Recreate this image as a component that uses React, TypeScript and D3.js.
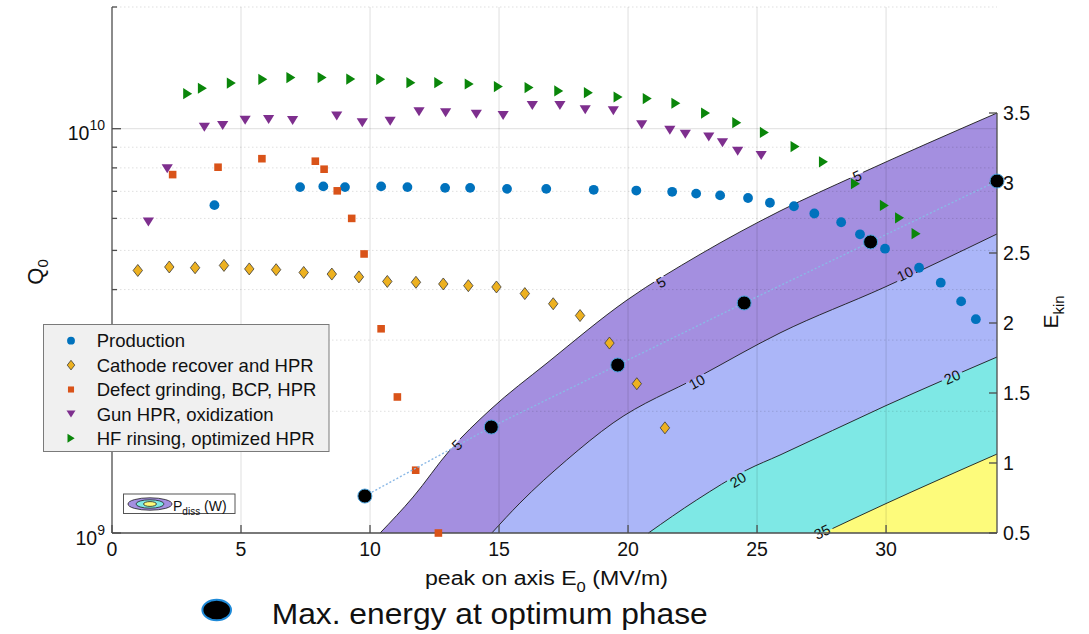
import { useEffect, useRef } from "react";
import * as d3 from "d3";

const W = 1089;
const H = 634;
const FONT = "'Liberation Sans', Arial, Helvetica, sans-serif";

// Q0 vs peak on axis E0 (MV/m), per treatment
const prodE0 = [3.97, 7.29, 8.19, 9.03, 10.43, 11.45, 12.91, 13.88, 15.31, 16.83, 18.67, 20.32, 21.71, 22.64, 23.57, 24.65, 25.5, 26.43, 27.22, 28.26, 28.99, 29.96, 31.28, 32.12, 32.91, 33.48];
const prodQ0 = [6.47, 7.17, 7.2, 7.17, 7.2, 7.17, 7.14, 7.14, 7.1, 7.1, 7.06, 7.03, 6.98, 6.91, 6.84, 6.74, 6.56, 6.43, 6.17, 5.87, 5.48, 5.05, 4.53, 4.16, 3.74, 3.38];

const cathE0 = [1.0, 2.22, 3.22, 4.34, 5.32, 6.36, 7.43, 8.52, 9.57, 10.67, 11.78, 12.84, 13.81, 14.9, 16.0, 17.1, 18.14, 19.28, 20.34, 21.43];
const cathQ0 = [4.46, 4.55, 4.53, 4.59, 4.5, 4.48, 4.41, 4.37, 4.3, 4.19, 4.17, 4.13, 4.09, 4.06, 3.91, 3.69, 3.45, 2.95, 2.34, 1.82];

const defE0 = [2.35, 4.11, 5.81, 7.88, 8.22, 8.73, 9.29, 9.77, 10.43, 11.06, 11.77, 12.65];
const defQ0 = [7.7, 8.03, 8.43, 8.31, 7.94, 7.02, 6.0, 4.9, 3.2, 2.17, 1.43, 1.0];

const gunE0 = [1.41, 2.14, 3.58, 4.29, 5.16, 6.07, 7.0, 8.71, 9.7, 10.78, 11.9, 12.93, 14.12, 15.16, 16.29, 17.36, 18.34, 19.43, 20.53, 21.62, 22.22, 23.13, 23.66, 24.25, 25.16];
const gunQ0 = [5.88, 7.96, 10.09, 10.19, 10.5, 10.54, 10.48, 10.75, 10.35, 10.44, 11.02, 10.96, 10.87, 10.79, 11.42, 11.42, 11.15, 11.08, 10.23, 9.92, 9.7, 9.55, 9.23, 8.8, 8.59];

const hfE0 = [2.93, 3.5, 4.62, 5.84, 6.93, 8.14, 9.25, 10.41, 11.58, 12.66, 13.84, 14.97, 16.16, 17.31, 18.46, 19.61, 20.74, 21.85, 23.0, 24.21, 25.28, 26.47, 27.57, 28.81, 29.93, 30.52, 31.16];
const hfQ0 = [12.21, 12.59, 12.97, 13.25, 13.38, 13.38, 13.27, 13.25, 13.0, 13.0, 12.9, 12.71, 12.64, 12.4, 12.28, 11.98, 11.87, 11.56, 10.93, 10.35, 9.79, 9.03, 8.28, 7.31, 6.46, 6.02, 5.5];

// max energy at optimum phase (right axis, E_kin)
const optE0 = [9.8, 14.7, 19.6, 24.5, 29.4, 34.3];
const optEkin = [0.764, 1.257, 1.7, 2.143, 2.579, 3.014];

// P_diss (W) iso-lines in the (E0, E_kin) plane
const c5E0 = [10.39, 11.67, 13.1, 14.65, 16.86, 19.96, 22.79, 25.89, 28.88, 34.3];
const c5Ekin = [0.5, 0.757, 1.093, 1.379, 1.714, 2.164, 2.49, 2.8, 3.057, 3.5];
const c10E0 = [14.72, 15.81, 17.62, 19.42, 22.79, 25.89, 29.96, 34.3];
const c10Ekin = [0.5, 0.714, 1.021, 1.286, 1.621, 1.929, 2.257, 2.636];
const c20E0 = [20.79, 22.66, 24.6, 25.89, 29.96, 34.3];
const c20Ekin = [0.5, 0.736, 0.95, 1.057, 1.407, 1.757];
const c35E0 = [27.56, 29.96, 34.3];
const c35Ekin = [0.5, 0.707, 1.064];
const levelColors = ["#a48fe0", "#abb6f8", "#7ee8e5", "#fdfb7b"];

const labelText = ["5", "5", "5", "10", "10", "20", "20", "35"];
const labelLevel = [0, 0, 0, 1, 1, 2, 2, 3];
const labelE0 = [28.88, 21.28, 13.37, 30.74, 22.67, 24.26, 32.56, 27.52];
const labelEkin = [3.05, 2.29, 1.129, 2.35, 1.579, 0.879, 1.614, 0.507];

const xTicks = [0, 5, 10, 15, 20, 25, 30];
const rightTicks = [0.5, 1, 1.5, 2, 2.5, 3, 3.5];
const minorQ = [2e9, 3e9, 4e9, 5e9, 6e9, 7e9, 8e9, 9e9, 2e10];
const legendNames = ["Production", "Cathode recover and HPR", "Defect grinding, BCP, HPR", "Gun HPR, oxidization", "HF rinsing, optimized HPR"];

const markerPath = (kind: string, s: number) => {
  if (kind === "circle") return d3.symbol(d3.symbolCircle, Math.PI * 4.9 * 4.9 * s * s)();
  if (kind === "diamond") return `M0,${-6 * s}L${4.7 * s},0L0,${6 * s}L${-4.7 * s},0Z`;
  if (kind === "square") return `M${-3.8 * s},${-3.8 * s}h${7.6 * s}v${7.6 * s}h${-7.6 * s}Z`;
  if (kind === "down") return `M${-5.6 * s},${-4.4 * s}L${5.6 * s},${-4.4 * s}L0,${4.6 * s}Z`;
  return `M${-4.4 * s},${-5.6 * s}L${4.6 * s},0L${-4.4 * s},${5.6 * s}Z`;
};

const App = () => {
  const svgRef = useRef<SVGSVGElement>(null);

  useEffect(() => {
    const svg = d3.select(svgRef.current);
    svg.selectAll("*").remove();

    const x = d3.scaleLinear().domain([0, 34.3]).range([112, 997]);
    const y = d3.scaleLog().domain([1e9, 2e10]).range([533, 7]);
    const yR = d3.scaleLinear().domain([0.5, 3.5]).range([533, 113]);

    const contours = [
      d3.zip(c5E0, c5Ekin),
      d3.zip(c10E0, c10Ekin),
      d3.zip(c20E0, c20Ekin),
      d3.zip(c35E0, c35Ekin),
    ];

    // filled P_diss bands
    const area = d3.area<number[]>()
      .x(d => x(d[0]))
      .y0(yR(0.5))
      .y1(d => yR(d[1]))
      .curve(d3.curveMonotoneX);
    contours.forEach((c, i) => {
      svg.append("path").attr("d", area(c)).attr("fill", levelColors[i]);
    });

    // grid
    const grid = svg.append("g").attr("stroke", "#000").attr("stroke-opacity", 0.13);
    xTicks.filter(t => t > 0).forEach(t => {
      grid.append("line").attr("x1", x(t)).attr("x2", x(t)).attr("y1", 7).attr("y2", 533);
    });
    grid.append("line").attr("x1", 112).attr("x2", 997).attr("y1", y(1e10)).attr("y2", y(1e10));
    minorQ.forEach(q => {
      grid.append("line").attr("x1", 112).attr("x2", 997).attr("y1", y(q)).attr("y2", y(q))
        .attr("stroke-dasharray", "1.5,2.5");
    });

    // contour lines with gaps for labels
    const defs = svg.append("defs");
    const mask = defs.append("mask").attr("id", "gaps").attr("maskUnits", "userSpaceOnUse")
      .attr("x", 0).attr("y", 0).attr("width", W).attr("height", H);
    mask.append("rect").attr("width", W).attr("height", H).attr("fill", "#fff");
    labelText.forEach((t, i) => {
      mask.append("circle").attr("cx", x(labelE0[i])).attr("cy", yR(labelEkin[i]))
        .attr("r", t.length > 1 ? 11 : 7).attr("fill", "#000");
    });
    const line = d3.line<number[]>().x(d => x(d[0])).y(d => yR(d[1])).curve(d3.curveMonotoneX);
    contours.forEach(c => {
      svg.append("path").attr("d", line(c)).attr("fill", "none")
        .attr("stroke", "#1a1a1a").attr("stroke-width", 0.9).attr("mask", "url(#gaps)");
    });
    labelText.forEach((t, i) => {
      const c = contours[labelLevel[i]];
      let k = c.findIndex(p => p[0] > labelE0[i]);
      if (k < 1) k = 1;
      const ang = Math.atan2(yR(c[k][1]) - yR(c[k - 1][1]), x(c[k][0]) - x(c[k - 1][0])) * 180 / Math.PI;
      svg.append("text")
        .attr("transform", `translate(${x(labelE0[i])},${yR(labelEkin[i])}) rotate(${ang})`)
        .attr("text-anchor", "middle").attr("dy", "0.35em")
        .attr("font-family", FONT).attr("font-size", 14.5).attr("fill", "#111")
        .text(t);
    });

    // axes
    const axisColor = "#4d4d4d";
    const ax = svg.append("g").attr("stroke", axisColor).attr("stroke-width", 1.3);
    ax.append("line").attr("x1", 112).attr("x2", 997).attr("y1", 533).attr("y2", 533);
    ax.append("line").attr("x1", 112).attr("x2", 112).attr("y1", 7).attr("y2", 533);
    ax.append("line").attr("x1", 997).attr("x2", 997).attr("y1", 113).attr("y2", 533);
    xTicks.forEach(t => {
      ax.append("line").attr("x1", x(t)).attr("x2", x(t)).attr("y1", 533).attr("y2", 525);
    });
    [1e9, 1e10].forEach(q => {
      ax.append("line").attr("x1", 112).attr("x2", 121).attr("y1", y(q)).attr("y2", y(q));
    });
    minorQ.forEach(q => {
      ax.append("line").attr("x1", 112).attr("x2", 117).attr("y1", y(q)).attr("y2", y(q));
    });
    rightTicks.forEach(t => {
      ax.append("line").attr("x1", 997).attr("x2", 989).attr("y1", yR(t)).attr("y2", yR(t));
    });

    const txt = (px: number, py: number, size: number, anchor = "start") =>
      svg.append("text").attr("x", px).attr("y", py).attr("font-family", FONT)
        .attr("font-size", size).attr("fill", "#111").attr("text-anchor", anchor);

    xTicks.forEach(t => txt(x(t), 555.5, 19.5, "middle").text(t));
    rightTicks.forEach(t => txt(1003, yR(t) + 7, 19.5).text(t));
    [[1e9, "9"], [1e10, "10"]].forEach(([q, e]) => {
      const tk = txt(105, y(q as number) + 11.5, 19.5, "end");
      tk.append("tspan").text("10");
      tk.append("tspan").attr("dy", -10).attr("font-size", 14).text(e as string);
    });

    // axis labels
    const ql = svg.append("text").attr("transform", "translate(43,272) rotate(-90)")
      .attr("text-anchor", "middle").attr("font-family", FONT).attr("font-size", 22).attr("fill", "#111");
    ql.append("tspan").text("Q");
    ql.append("tspan").attr("dy", 5).attr("font-size", 15).text("0");

    const el = svg.append("text").attr("transform", "translate(1058,312) rotate(-90)")
      .attr("text-anchor", "middle").attr("font-family", FONT).attr("font-size", 21).attr("fill", "#111");
    el.append("tspan").text("E");
    el.append("tspan").attr("dy", 6).attr("font-size", 15).text("kin");

    const xl = txt(425, 584.5, 19.5).attr("textLength", 243).attr("lengthAdjust", "spacingAndGlyphs");
    xl.append("tspan").text("peak on axis E");
    xl.append("tspan").attr("dy", 7).attr("font-size", 14).text("0");
    xl.append("tspan").attr("dy", -7).text(" (MV/m)");

    // data series
    const series = [
      { e: prodE0, q: prodQ0, kind: "circle", fill: "#0072bd", stroke: "none" },
      { e: cathE0, q: cathQ0, kind: "diamond", fill: "#edb120", stroke: "#3a3a3a" },
      { e: defE0, q: defQ0, kind: "square", fill: "#d95319", stroke: "none" },
      { e: gunE0, q: gunQ0, kind: "down", fill: "#7e2f8e", stroke: "none" },
      { e: hfE0, q: hfQ0, kind: "right", fill: "#0a860a", stroke: "none" },
    ];
    series.forEach(s => {
      svg.append("g").selectAll("path").data(d3.zip(s.e, s.q)).enter().append("path")
        .attr("transform", d => `translate(${x(d[0])},${y(d[1] * 1e9)})`)
        .attr("d", markerPath(s.kind, 1))
        .attr("fill", s.fill).attr("stroke", s.stroke).attr("stroke-width", 0.8);
    });

    // optimum phase energy
    const opt = d3.zip(optE0, optEkin);
    svg.append("path").attr("d", d3.line<number[]>().x(d => x(d[0])).y(d => yR(d[1]))(opt))
      .attr("fill", "none").attr("stroke", "#8ab8e6").attr("stroke-width", 1.4).attr("stroke-dasharray", "2,2");
    svg.append("g").selectAll("circle").data(opt).enter().append("circle")
      .attr("cx", d => x(d[0])).attr("cy", d => yR(d[1])).attr("r", 7)
      .attr("fill", "#000").attr("stroke", "#4aa3df").attr("stroke-width", 1);

    // legend
    svg.append("rect").attr("x", 43.5).attr("y", 324.5).attr("width", 285.5).attr("height", 127)
      .attr("fill", "#f0f0f0").attr("stroke", "#7a7a7a").attr("stroke-width", 1);
    legendNames.forEach((name, i) => {
      const cy = 340.7 + i * 24.4;
      const s = series[i];
      svg.append("path").attr("transform", `translate(71,${cy})`).attr("d", markerPath(s.kind, 0.8))
        .attr("fill", s.fill).attr("stroke", s.stroke).attr("stroke-width", 0.8);
      txt(96.7, cy + 6.6, 18.5).text(name);
    });

    // P_diss key
    svg.append("rect").attr("x", 123.5).attr("y", 494).attr("width", 111.5).attr("height", 19.5)
      .attr("fill", "#fff").attr("stroke", "#555").attr("stroke-width", 1);
    [[22, 6.2, 0], [14, 4.2, 2], [6.5, 2.4, 3]].forEach(([rx, ry, c]) => {
      svg.append("ellipse").attr("cx", 150).attr("cy", 504).attr("rx", rx).attr("ry", ry)
        .attr("fill", levelColors[c]).attr("stroke", "#222").attr("stroke-width", 0.8);
    });
    const pk = txt(173, 510.5, 14);
    pk.append("tspan").text("P");
    pk.append("tspan").attr("dy", 4.5).attr("font-size", 10).text("diss");
    pk.append("tspan").attr("dy", -4.5).text(" (W)");

    // bottom key
    svg.append("ellipse").attr("cx", 216.7).attr("cy", 610).attr("rx", 14.3).attr("ry", 10.2)
      .attr("fill", "#000").attr("stroke", "#1f8ad8").attr("stroke-width", 2);
    txt(271.7, 624.3, 30).attr("textLength", 436).attr("lengthAdjust", "spacingAndGlyphs")
      .text("Max. energy at optimum phase");
  }, []);

  return (
    <div style={{ position: "fixed", left: 0, top: 0 }}>
      <svg ref={svgRef} width={W} height={H} style={{ display: "block", background: "#fff" }}></svg>
    </div>
  );
};

export default App;
